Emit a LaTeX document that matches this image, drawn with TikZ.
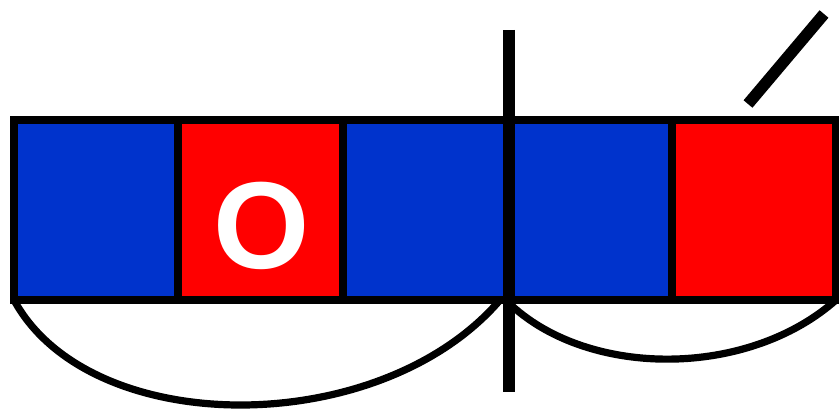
\documentclass[tikz,border=0pt]{standalone}
\usepackage{fontspec}
\newfontfamily\letterfont{Liberation Sans}
\usepackage{tikz}
\usetikzlibrary{positioning}

\definecolor{cellblue}{RGB}{0,51,204}
\definecolor{cellred}{RGB}{255,0,0}

\begin{document}
\begin{tikzpicture}[
  x=0.25mm, y=-0.25mm,
  cell/.style={rectangle, draw, line width=2mm, minimum width=41.1mm,
               minimum height=45mm, inner sep=0pt, outer sep=0pt},
  cut/.style={line width=2.9mm},
  arc/.style={line width=1.8mm},
  letter/.style={text=white, font=\letterfont\bfseries\fontsize{88}{88}\selectfont},
]
\useasboundingbox (0,0) rectangle (839,413);

\node[cell, fill=cellblue] (c1) at (96.2,210) {};
\node[cell, fill=cellred,  right=0pt of c1] (c2) {};
\node[cell, fill=cellblue, right=0pt of c2] (c3) {};
\node[cell, fill=cellblue, right=0pt of c3] (c4) {};
\node[cell, fill=cellred,  right=0pt of c4] (c5) {};

\node[letter] (o) at (262,226) {O};

\coordinate (cuttop) at (509,30);
\coordinate (cutbot) at (509,392);
\coordinate (slasha) at (748,104);
\coordinate (slashb) at (824,14);
\coordinate (arcmid) at (500,300);
\coordinate (arcstart) at (511,305);

\draw[cut] (cuttop) -- (cutbot);
\draw[cut] (slasha) -- (slashb);

\draw[arc] (c1.south west) .. controls (90,440) and (380,440) .. (arcmid);
\draw[arc] (arcstart) .. controls (590,378) and (748,378) .. (c5.south east);
\end{tikzpicture}
\end{document}
